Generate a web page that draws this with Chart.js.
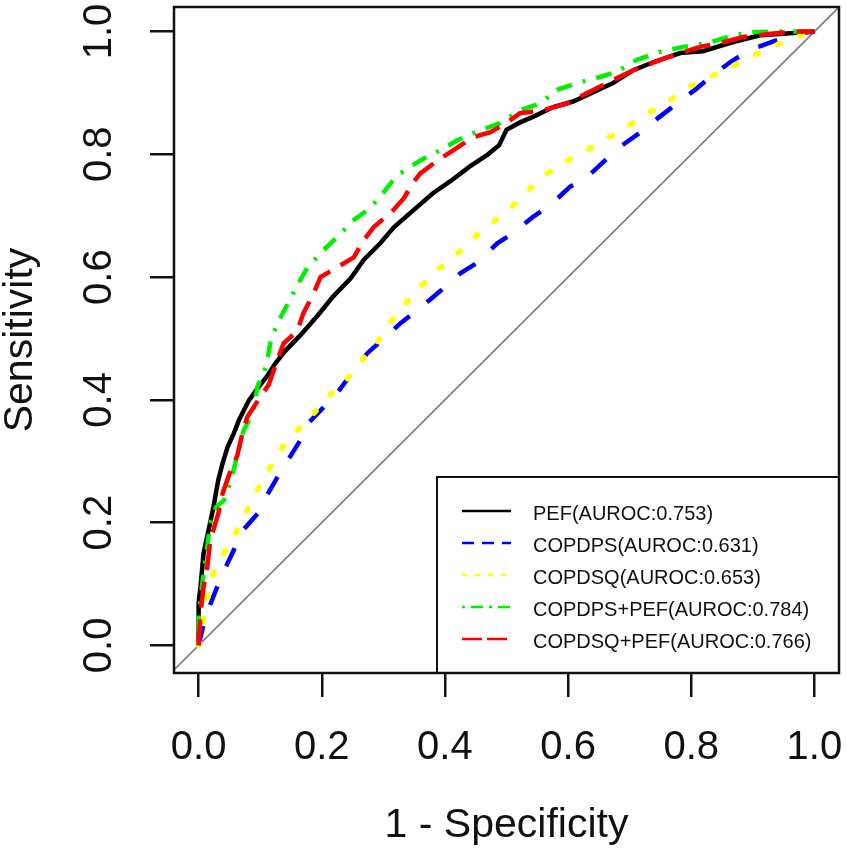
<!DOCTYPE html>
<html><head><meta charset="utf-8">
<script src="https://cdn.jsdelivr.net/npm/chart.js@4.4.1/dist/chart.umd.min.js"></script>
<style>html,body{margin:0;padding:0;background:#fff;overflow:hidden}#wrap{width:847px;height:852px}</style>
</head><body><div id="wrap"><canvas id="c" width="847" height="852"></canvas></div>
<script>
const tickValues = [0, 0.2, 0.4, 0.6, 0.8, 1.0];
const seriesLabels = ['PEF(AUROC:0.753)', 'COPDPS(AUROC:0.631)', 'COPDSQ(AUROC:0.653)', 'COPDPS+PEF(AUROC:0.784)', 'COPDSQ+PEF(AUROC:0.766)'];
const xTitle = '1 - Specificity';
const yTitle = 'Sensitivity';

const pefX = [0, 0, 0.003, 0.008, 0.016, 0.024, 0.032, 0.039, 0.047, 0.057, 0.066, 0.081, 0.095, 0.11, 0.125, 0.14, 0.165, 0.193, 0.219, 0.247, 0.268, 0.295, 0.317, 0.349, 0.381, 0.41, 0.44, 0.47, 0.488, 0.5, 0.522, 0.543, 0.576, 0.608, 0.641, 0.673, 0.706, 0.738, 0.782, 0.819, 0.868, 0.912, 0.955, 1.0];
const pefY = [0, 0.07, 0.095, 0.15, 0.187, 0.225, 0.27, 0.297, 0.323, 0.345, 0.368, 0.398, 0.418, 0.437, 0.46, 0.479, 0.505, 0.537, 0.569, 0.598, 0.628, 0.655, 0.681, 0.709, 0.737, 0.757, 0.78, 0.80, 0.815, 0.84, 0.852, 0.861, 0.877, 0.886, 0.901, 0.916, 0.937, 0.95, 0.965, 0.968, 0.983, 0.994, 0.997, 1.0];

const psX = [0, 0.003, 0.011, 0.028, 0.039, 0.057, 0.068, 0.096, 0.109, 0.128, 0.144, 0.165, 0.178, 0.203, 0.225, 0.252, 0.274, 0.303, 0.328, 0.365, 0.391, 0.425, 0.452, 0.485, 0.511, 0.543, 0.571, 0.603, 0.631, 0.66, 0.684, 0.722, 0.746, 0.777, 0.806, 0.839, 0.863, 0.895, 0.931, 0.972, 1.0];
const psY = [0, 0.013, 0.046, 0.09, 0.117, 0.155, 0.183, 0.215, 0.241, 0.274, 0.30, 0.334, 0.362, 0.388, 0.411, 0.448, 0.476, 0.502, 0.525, 0.554, 0.576, 0.606, 0.623, 0.655, 0.672, 0.698, 0.717, 0.747, 0.763, 0.79, 0.812, 0.839, 0.859, 0.883, 0.905, 0.932, 0.95, 0.97, 0.983, 0.997, 1.0];

const sqX = [0, 0.008, 0.016, 0.024, 0.041, 0.06, 0.076, 0.092, 0.112, 0.13, 0.16, 0.188, 0.215, 0.242, 0.268, 0.29, 0.311, 0.336, 0.363, 0.393, 0.422, 0.452, 0.479, 0.511, 0.539, 0.566, 0.599, 0.633, 0.663, 0.696, 0.725, 0.761, 0.793, 0.826, 0.86, 0.892, 0.928, 0.96, 1.0];
const sqY = [0, 0.046, 0.085, 0.117, 0.15, 0.183, 0.215, 0.248, 0.282, 0.315, 0.35, 0.379, 0.41, 0.435, 0.468, 0.494, 0.526, 0.557, 0.587, 0.616, 0.64, 0.668, 0.69, 0.717, 0.745, 0.769, 0.79, 0.808, 0.826, 0.845, 0.864, 0.885, 0.908, 0.924, 0.94, 0.957, 0.973, 0.989, 1.0];

const psPefX = [0, 0, 0.008, 0.019, 0.028, 0.041, 0.052, 0.073, 0.088, 0.096, 0.109, 0.117, 0.128, 0.144, 0.162, 0.177, 0.203, 0.225, 0.252, 0.274, 0.29, 0.316, 0.328, 0.36, 0.393, 0.42, 0.457, 0.49, 0.522, 0.555, 0.582, 0.615, 0.652, 0.68, 0.712, 0.749, 0.787, 0.826, 0.868, 0.9, 0.939, 1.0];
const psPefY = [0, 0.05, 0.117, 0.199, 0.225, 0.236, 0.267, 0.35, 0.378, 0.423, 0.453, 0.495, 0.525, 0.555, 0.59, 0.616, 0.644, 0.665, 0.693, 0.709, 0.725, 0.758, 0.769, 0.79, 0.807, 0.823, 0.839, 0.851, 0.872, 0.883, 0.905, 0.916, 0.926, 0.935, 0.954, 0.967, 0.975, 0.981, 0.994, 0.999, 1.0, 1.0];

const sqPefX = [0, 0.003, 0.008, 0.014, 0.019, 0.032, 0.039, 0.052, 0.063, 0.071, 0.079, 0.097, 0.114, 0.128, 0.138, 0.16, 0.17, 0.187, 0.198, 0.225, 0.252, 0.268, 0.284, 0.316, 0.333, 0.349, 0.36, 0.388, 0.414, 0.446, 0.474, 0.501, 0.522, 0.56, 0.599, 0.631, 0.673, 0.706, 0.761, 0.814, 0.847, 0.884, 0.933, 0.976, 1.0];
const sqPefY = [0, 0.052, 0.095, 0.127, 0.171, 0.215, 0.248, 0.285, 0.31, 0.345, 0.372, 0.40, 0.425, 0.465, 0.492, 0.512, 0.541, 0.574, 0.60, 0.616, 0.632, 0.66, 0.681, 0.709, 0.728, 0.755, 0.769, 0.79, 0.807, 0.828, 0.836, 0.852, 0.867, 0.872, 0.883, 0.90, 0.921, 0.937, 0.958, 0.975, 0.981, 0.991, 0.997, 1.0, 1.0];

const diagX = [-0.05, 1.05];
const diagY = [-0.05, 1.05];

const pts = (xs, ys) => xs.map((x, i) => ({x: x, y: ys[i]}));
const FONT = '"Liberation Sans", Arial, sans-serif';

const frameAndLegend = {
  id: 'frameAndLegend',
  afterDraw(chart) {
    const ctx = chart.ctx, a = chart.chartArea;
    ctx.save();
    const w = 402, h = 196;
    const x0 = a.right - w, y0 = a.bottom - h;
    ctx.fillStyle = '#fff';
    ctx.fillRect(x0, y0, w, h);
    ctx.lineWidth = 2;
    ctx.strokeStyle = '#111';
    ctx.setLineDash([]);
    ctx.strokeRect(x0, y0, w, h);
    const items = chart.data.datasets.filter(d => d.legendDash).sort((p, q) => p.legendIndex - q.legendIndex);
    items.forEach((d, i) => {
      const y = y0 + 34 + i * 32;
      ctx.beginPath();
      ctx.setLineDash(d.legendDash);
      ctx.lineCap = 'butt';
      ctx.strokeStyle = d.borderColor;
      ctx.lineWidth = 2.5;
      ctx.moveTo(x0 + 25, y);
      ctx.lineTo(x0 + 74, y);
      ctx.stroke();
      ctx.setLineDash([]);
      ctx.fillStyle = '#111';
      ctx.font = '20px ' + FONT;
      ctx.textBaseline = 'middle';
      ctx.textAlign = 'left';
      ctx.fillText(d.label, x0 + 96, y + 3);
    });
    ctx.setLineDash([]);
    ctx.lineWidth = 2.5;
    ctx.strokeStyle = '#111';
    ctx.strokeRect(a.left, a.top, a.right - a.left, a.bottom - a.top);
    ctx.restore();
  }
};

const curve = (label, xs, ys, color, dash, legendDash, idx, order, cap, width) => ({
  label: label, data: pts(xs, ys), showLine: true, borderColor: color, backgroundColor: color,
  borderWidth: width, borderDash: dash, borderCapStyle: cap, pointRadius: 0, tension: 0,
  legendDash: legendDash, legendIndex: idx, order: order
});

const noPad = s => { s.paddingTop = 0; s.paddingBottom = 0; s.paddingLeft = 0; s.paddingRight = 0; };

new Chart(document.getElementById('c'), {
  type: 'scatter',
  data: {
    datasets: [
      curve(seriesLabels[4], sqPefX, sqPefY, '#ff0000', [26, 12], [20, 5], 4, 0, 'butt', 4.5),
      curve(seriesLabels[3], psPefX, psPefY, '#00f000', [3, 11, 16, 11], [3, 6, 12, 6], 3, 1, 'butt', 4.5),
      curve(seriesLabels[2], sqX, sqY, '#ffff00', [3, 21], [5, 8], 2, 2, 'round', 5.5),
      curve(seriesLabels[1], psX, psY, '#0000ff', [20, 22], [12, 8], 1, 3, 'butt', 4.5),
      curve(seriesLabels[0], pefX, pefY, '#000000', [], [], 0, 4, 'butt', 4.5),
      { label: 'diag', data: pts(diagX, diagY), showLine: true, borderColor: '#7a7a7a', borderWidth: 1.6, pointRadius: 0, order: 5 }
    ]
  },
  options: {
    responsive: false, animation: false, devicePixelRatio: 1,
    layout: { padding: { left: 0, top: 7, right: 8, bottom: 0 } },
    plugins: { legend: { display: false }, tooltip: { enabled: false } },
    scales: {
      x: {
        type: 'linear', min: -0.04, max: 1.04,
        afterBuildTicks: s => { s.ticks = tickValues.map(v => ({ value: v })); },
        afterFit: s => { s.height = 179; noPad(s); },
        grid: { display: true, drawOnChartArea: false, drawTicks: true, tickLength: 24, tickWidth: 2.5, tickColor: '#111', color: '#111', lineWidth: 2.5 },
        border: { display: false },
        ticks: { padding: 27, maxRotation: 0, minRotation: 0, autoSkip: false, color: '#111', font: { family: FONT, size: 40 }, callback: v => Number(v).toFixed(1) },
        title: { display: true, text: xTitle, color: '#111', font: { family: FONT, size: 41, lineHeight: 1 }, padding: { top: 0, bottom: 6 } }
      },
      y: {
        type: 'linear', min: -0.045, max: 1.04,
        afterBuildTicks: s => { s.ticks = tickValues.map(v => ({ value: v })); },
        afterFit: s => { s.width = 174; noPad(s); },
        grid: { display: true, drawOnChartArea: false, drawTicks: true, tickLength: 24, tickWidth: 2.5, tickColor: '#111', color: '#111', lineWidth: 2.5 },
        border: { display: false },
        ticks: { padding: 22, minRotation: 90, maxRotation: 90, crossAlign: 'center', autoSkip: false, color: '#111', font: { family: FONT, size: 40 }, callback: v => Number(v).toFixed(1) },
        title: { display: true, text: yTitle, color: '#111', font: { family: FONT, size: 41, lineHeight: 1 }, padding: { top: 0, bottom: 0 } }
      }
    }
  },
  plugins: [frameAndLegend]
});
</script>
</body></html>
